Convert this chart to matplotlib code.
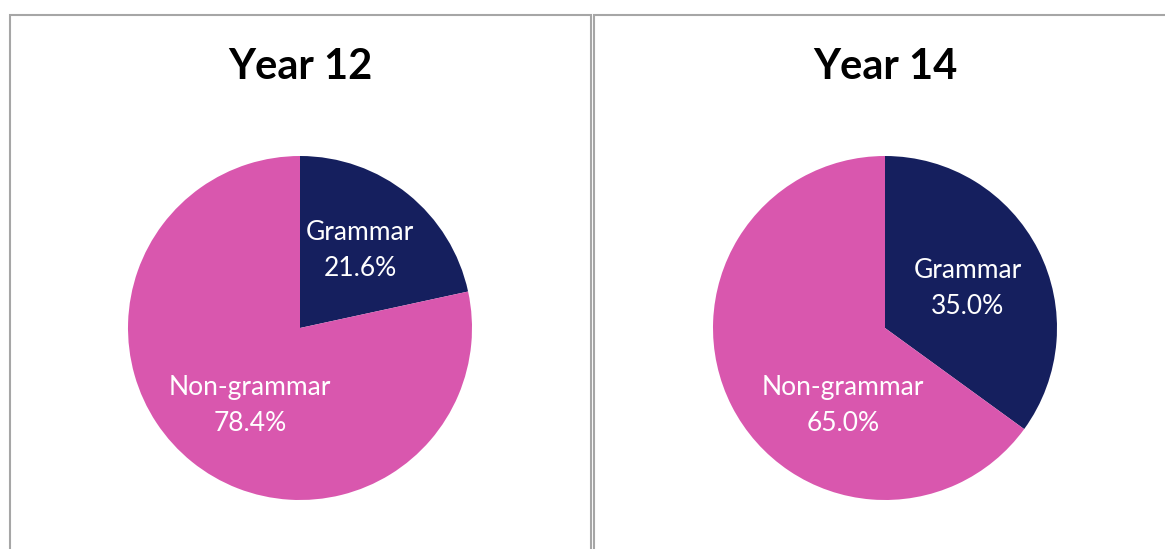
import matplotlib
matplotlib.use("Agg")
import matplotlib.pyplot as plt
from matplotlib.patches import Rectangle

# data
titles = ["Year 12", "Year 14"]
categories = ["Grammar", "Non-grammar"]
shares = [[21.6, 78.4], [35.0, 65.0]]
colors = ["#151F5E", "#D957AE"]

# label spots (pie radius units), Excel-like placement
label_pos = [[(0.35, 0.45), (-0.29, -0.45)],
             [(0.48, 0.23), (-0.245, -0.45)]]

W, H = 1165, 549
fig = plt.figure(figsize=(W / 100, H / 100), dpi=100)
plt.rcParams['font.family'] = ['Lato', 'DejaVu Sans']

# panel frames
frames = [(9.5, 590.5), (593.5, 1175)]
for x0, x1 in frames:
    fig.patches.append(Rectangle((x0 / W, -0.1), (x1 - x0) / W, (H - 14.5) / H + 0.1,
                                 transform=fig.transFigure, fill=False,
                                 edgecolor="#A6A6A6", linewidth=1.5))

centers = [300, 885]
cy = 328
r = 172
for i in range(2):
    ax = fig.add_axes([(centers[i] - r) / W, (H - cy - r) / H, 2 * r / W, 2 * r / H])
    ax.pie(shares[i], colors=colors, startangle=90, counterclock=False,
           radius=1, wedgeprops=dict(linewidth=0))
    ax.set_xlim(-1, 1)
    ax.set_ylim(-1, 1)
    ax.set_aspect("equal")
    ax.axis("off")
    for j in range(2):
        x, y = label_pos[i][j]
        ax.text(x, y, "%s\n%.1f%%" % (categories[j], shares[i][j]), color="white",
                ha="center", va="center", fontsize=19, linespacing=1.55)
    fig.text(centers[i] / W, 1 - 67 / H, titles[i], ha="center", va="center",
             fontsize=30, fontweight="bold")

fig.savefig("out.png", dpi=100)
